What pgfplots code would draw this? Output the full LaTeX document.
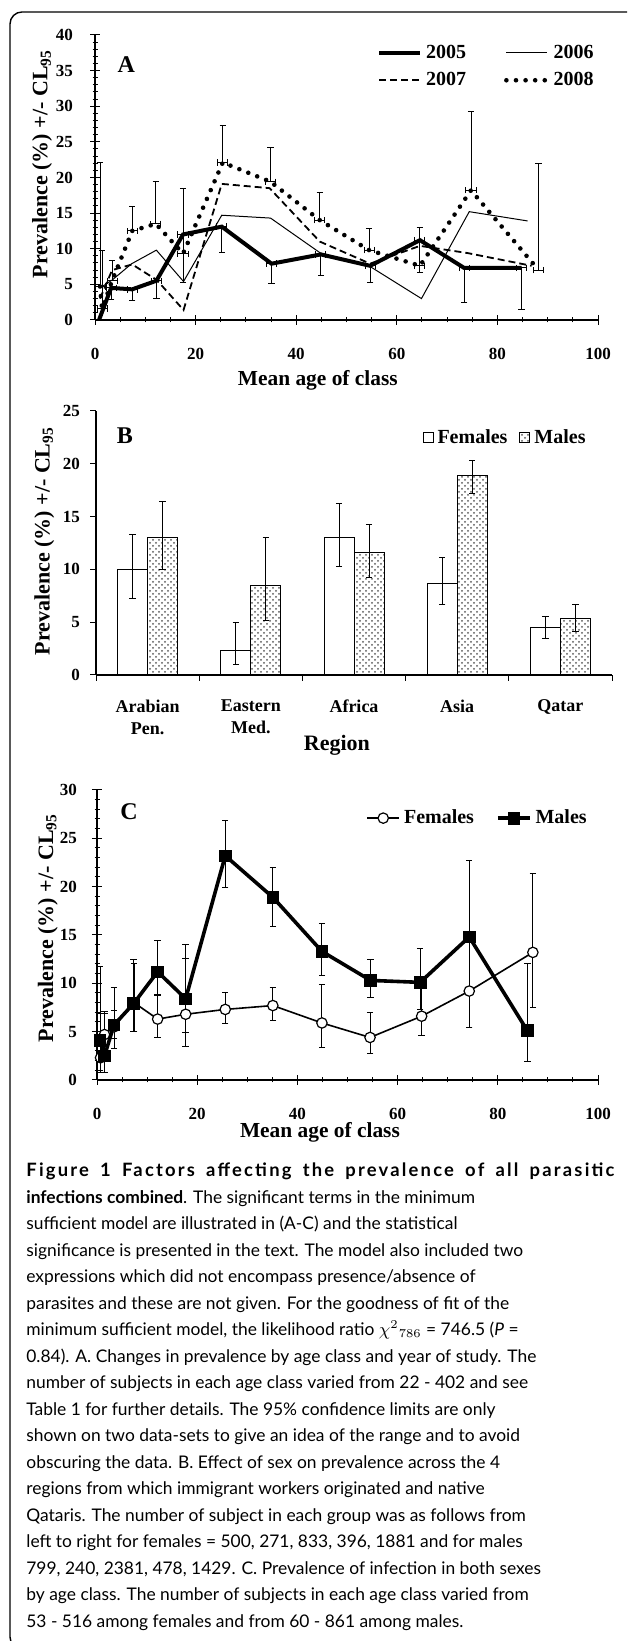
\documentclass[border=0pt]{standalone}
\usepackage{fontspec}
\setmainfont{Liberation Serif}
\newfontfamily\capfont{Lato}
\usepackage{pgfplots}
\pgfplotsset{compat=1.18}
\usepackage{pgfplotstable}
\usetikzlibrary{patterns}

% panel A: prevalence by age class and year
\pgfplotstableread{
x y ex em
0.8 0 0 0
3.2 4.5 1 1.6
7.4 4.3 1 1.5
12.2 5.5 1 2.5
17.5 12.0 1 6.7
25.2 13.1 1 3.6
35.1 7.9 1 2.85
44.9 9.2 1 3.0
54.7 7.6 1 2.4
64.6 11.2 1 4.6
73.4 7.3 1 4.9
84.8 7.3 1 5.9
}\yrfive
\pgfplotstableread{
x y
1.0 4.5
3.4 5.6
7.3 7.9
12.2 9.8
17.6 5.4
25.2 14.7
34.9 14.3
44.8 9.4
54.7 7.5
64.9 3.0
74.4 15.2
86.0 13.9
}\yrsix
\pgfplotstableread{
x y
1.0 3.0
3.4 7.0
7.4 7.8
12.3 5.6
17.6 1.4
25.2 19.1
34.7 18.5
44.7 11.0
54.7 7.9
64.6 10.4
74.0 9.4
86.8 7.6
}\yrseven
\pgfplotstableread{
x y ex ep
1.0 4.7 1 17.4
1.4 1.6 1 8.1
3.4 5.5 1 2.8
7.4 12.5 1 3.4
12.1 13.5 1 5.9
17.5 9.3 1 9.2
25.4 22.1 1 5.2
34.9 19.4 1 4.8
44.7 14.0 1 3.9
54.5 9.8 1 3.0
64.6 7.6 1 5.4
74.75 18.2 1 11.0
88.2 7.0 1 15.0
}\yreight

% panel B: region by sex
\pgfplotstableread{
x y ep em
0 10.0 3.3 2.8
1 2.35 2.65 1.35
2 13.0 3.25 2.75
3 8.7 2.4 2.05
4 4.5 1.0 1.0
}\femB
\pgfplotstableread{
x y ep em
0 13.0 3.45 3.0
1 8.45 4.55 3.25
2 11.6 2.65 2.4
3 18.9 1.45 1.7
4 5.35 1.35 1.2
}\malB

% panel C: sex by age class
\pgfplotstableread{
x y ep em
0.7 2.3 4.6 1.5
1.5 4.7 2.2 2.5
3.4 5.5 1.7 1.2
7.4 8.0 4.1 3.0
12.1 6.3 2.4 1.9
17.7 6.8 5.8 3.3
25.6 7.3 1.8 1.5
35.1 7.7 1.9 1.5
44.9 5.9 4.0 2.5
54.5 4.4 2.6 1.7
64.8 6.6 2.9 2.0
74.3 9.2 5.0 3.8
87.0 13.2 8.2 5.7
}\femC
\pgfplotstableread{
x y ep em
0.6 4.1 7.6 3.1
1.5 2.5 4.6 1.7
3.4 5.7 3.9 2.4
7.3 7.9 4.6 2.9
12.1 11.2 3.2 2.4
17.7 8.4 5.6 3.5
25.6 23.2 3.6 3.3
35.1 18.9 3.1 3.0
44.9 13.3 2.9 2.5
54.6 10.3 2.2 1.8
64.5 10.1 3.5 2.8
74.3 14.8 7.9 9.4
85.9 5.1 7.0 3.2
}\malC

\pgfplotsset{
  panel/.style={
    scale only axis, axis lines=left,
    axis line style={-, line width=0.9pt},
    tick style={black, line width=0.5pt}, tick align=center,
    major tick length=5pt, minor tick length=2.5pt,
    tick label style={font=\fontsize{8.5}{10}\selectfont\bfseries},
    /pgf/number format/assume math mode=true,
    ylabel style={font=\fontsize{11}{13}\selectfont\bfseries},
    xlabel style={font=\fontsize{10.7}{13}\selectfont\bfseries},
    clip=false,
  },
  error bars/ebar/.style={error bar style={line width=0.5pt, solid, line cap=butt},
    error mark options={rotate=90, line width=0.5pt, mark size=1.6pt, solid}},
  boxlegend/.style={legend image code/.code={\draw[##1] (0pt,-2.5pt) rectangle (5pt,2.5pt);}},
  linelegend/.style={legend image code/.code={\draw[##1] (0pt,0pt) -- (20.5pt,0pt);}},
  marklegend/.style={legend image code/.code={\draw[mark repeat=2,mark phase=2,##1] plot coordinates {(0pt,0pt) (8pt,0pt) (16pt,0pt)};}},
}

\begin{document}
\begin{tikzpicture}
\useasboundingbox (0,0) rectangle (313.5pt,820.5pt);
\clip (0,0) rectangle (313.5pt,820.5pt);
\draw[line width=0.7pt, rounded corners=6pt] (5pt,814.5pt) rectangle (322pt,-4pt);

% ---------- A ----------
\begin{axis}[panel,
  at={(47.5pt,660.5pt)}, anchor=south west,
  width=251.5pt, height=142.5pt,
  xmin=0, xmax=100, ymin=0, ymax=40,
  xtick={0,20,...,100}, minor x tick num=3,
  ytick={0,5,...,40}, minor y tick num=4,
  xticklabel style={yshift=-8pt},
  yticklabel style={xshift=-5pt},
  xlabel={Mean age of class},
  xlabel style={at={(axis description cs:0.443,-0.21)}, anchor=center},
  ylabel={Prevalence (\%) +/- CL\textsubscript{95}},
  ylabel style={at={(axis description cs:-0.105,0.547)}, anchor=center},
  legend columns=2,
  legend style={draw=none, fill=none, inner sep=0pt,
    at={(axis description cs:0.56,0.889)}, anchor=west,
    font=\fontsize{10}{12}\selectfont\bfseries,
    /tikz/every even column/.append style={column sep=17pt},
    /tikz/row sep=1.5pt},
]
\addplot[linelegend, black, line width=2pt, error bars/.cd, x dir=both, x explicit,
  y dir=minus, y explicit, ebar]
  table[x=x, y=y, x error=ex, y error minus=em] {\yrfive};
\addlegendentry{2005}
\addplot[linelegend, black, line width=0.5pt] table[x=x, y=y] {\yrsix};
\addlegendentry{2006}
\addplot[linelegend, black, line width=0.9pt, dash pattern=on 3.5pt off 2pt] table[x=x, y=y] {\yrseven};
\addlegendentry{2007}
\addplot[linelegend, black, line width=2.3pt, line cap=round, dash pattern=on 0pt off 4.8pt,
  error bars/.cd, x dir=both, x explicit, y dir=plus, y explicit, ebar]
  table[x=x, y=y, x error=ex, y error plus=ep] {\yreight};
\addlegendentry{2008}
\node[font=\fontsize{12}{14}\selectfont\bfseries] at (axis description cs:0.062,0.895) {A};
\end{axis}

% ---------- B ----------
\begin{axis}[panel,
  at={(48pt,483pt)}, anchor=south west,
  width=258pt, height=132pt,
  ybar=0pt, bar width=15pt,
  xmin=-0.5, xmax=4.5, ymin=0, ymax=25,
  tick align=outside, major tick length=3pt,
  xtick={-0.5,0.5,...,4.5}, xticklabels={,,,,,},
  extra x ticks={0,1,2,3,4},
  extra x tick labels={{Arabian\\Pen.},{Eastern\\Med.},Africa,Asia,Qatar},
  extra x tick style={tick style={draw=none},
    tick label style={font=\fontsize{9}{11}\selectfont\bfseries, align=center, yshift=-6pt}},
  ytick={0,5,...,25},
  yticklabel style={xshift=-1.5pt},
  xlabel={Region},
  xlabel style={at={(axis description cs:0.467,-0.265)}, anchor=center, font=\fontsize{11}{13}\selectfont\bfseries},
  ylabel={Prevalence (\%) +/- CL\textsubscript{95}},
  ylabel style={at={(axis description cs:-0.1,0.507)}, anchor=center},
  legend columns=2,
  legend style={draw=none, fill=none, inner sep=0pt,
    at={(axis description cs:0.632,0.898)}, anchor=west,
    font=\fontsize{10}{12}\selectfont\bfseries,
    /tikz/every even column/.append style={column sep=4pt}},
]
\addplot[boxlegend, draw=black, line width=0.5pt, fill=white,
  error bars/.cd, y dir=both, y explicit, ebar]
  table[x=x, y=y, y error plus=ep, y error minus=em] {\femB};
\addlegendentry{Females}
\addplot[boxlegend, draw=black, line width=0.5pt, pattern=crosshatch dots, pattern color=black!65,
  error bars/.cd, y dir=both, y explicit, ebar]
  table[x=x, y=y, y error plus=ep, y error minus=em] {\malB};
\addlegendentry{Males}
\node[font=\fontsize{12}{14}\selectfont\bfseries] at (axis description cs:0.056,0.905) {B};
\end{axis}

% ---------- C ----------
\begin{axis}[panel,
  at={(48.5pt,280.5pt)}, anchor=south west,
  width=250.5pt, height=145pt,
  xmin=0, xmax=100, ymin=0, ymax=30,
  xtick={0,20,...,100}, minor x tick num=3,
  ytick={0,5,...,30}, minor y tick num=4,
  xticklabel style={yshift=-8pt},
  yticklabel style={xshift=-4pt},
  xlabel={Mean age of class},
  xlabel style={at={(axis description cs:0.445,-0.179)}, anchor=center},
  ylabel={Prevalence (\%) +/- CL\textsubscript{95}},
  ylabel style={at={(axis description cs:-0.098,0.524)}, anchor=center},
  legend columns=2,
  legend style={draw=none, fill=none, inner sep=0pt,
    at={(axis description cs:0.537,0.903)}, anchor=west,
    font=\fontsize{10}{12}\selectfont\bfseries,
    /tikz/every even column/.append style={column sep=9pt}},
]
\addplot[marklegend, black, line width=0.8pt, mark=*, mark size=2.6pt,
  mark options={fill=white, line width=0.6pt},
  error bars/.cd, y dir=both, y explicit, ebar]
  table[x=x, y=y, y error plus=ep, y error minus=em] {\femC};
\addlegendentry{Females}
\addplot[marklegend, black, line width=1.8pt, mark=square*, mark size=2.9pt,
  mark options={fill=black, line width=0.4pt},
  error bars/.cd, y dir=both, y explicit, ebar]
  table[x=x, y=y, y error plus=ep, y error minus=em] {\malC};
\addlegendentry{Males}
\node[font=\fontsize{12}{14}\selectfont\bfseries] at (axis description cs:0.064,0.924) {C};
\end{axis}

% ---------- caption ----------
\begin{scope}[every node/.style={anchor=base west, inner sep=0pt,
    font=\capfont\fontsize{8.7}{10}\selectfont}]
\node at (13pt,232pt) {\makebox[294pt][s]{\fontsize{9.2}{10}\selectfont\bfseries\addfontfeatures{LetterSpace=12}Figure 1 Factors affecting the prevalence of all parasitic}};
\node at (13pt,218.75pt) {\textbf{infections combined}. The significant terms in the minimum};
\node at (13pt,205.5pt) {sufficient model are illustrated in (A-C) and the statistical};
\node at (13pt,192.25pt) {significance is presented in the text. The model also included two};
\node at (13pt,179pt) {expressions which did not encompass presence/absence of};
\node at (13pt,165.75pt) {parasites and these are not given. For the goodness of fit of the};
\node at (13pt,152.5pt) {minimum sufficient model, the likelihood ratio $\chi^{2}{}_{786}$ = 746.5 (\textit{P} =};
\node at (13pt,139.25pt) {0.84). A. Changes in prevalence by age class and year of study. The};
\node at (13pt,126pt) {number of subjects in each age class varied from 22 - 402 and see};
\node at (13pt,112.75pt) {Table 1 for further details. The 95\% confidence limits are only};
\node at (13pt,99.5pt) {shown on two data-sets to give an idea of the range and to avoid};
\node at (13pt,86.25pt) {obscuring the data. B. Effect of sex on prevalence across the 4};
\node at (13pt,73pt) {regions from which immigrant workers originated and native};
\node at (13pt,59.75pt) {Qataris. The number of subject in each group was as follows from};
\node at (13pt,46.5pt) {left to right for females = 500, 271, 833, 396, 1881 and for males};
\node at (13pt,33.25pt) {799, 240, 2381, 478, 1429. C. Prevalence of infection in both sexes};
\node at (13pt,20pt) {by age class. The number of subjects in each age class varied from};
\node at (13pt,6.75pt) {53 - 516 among females and from 60 - 861 among males.};
\end{scope}
\end{tikzpicture}
\end{document}
